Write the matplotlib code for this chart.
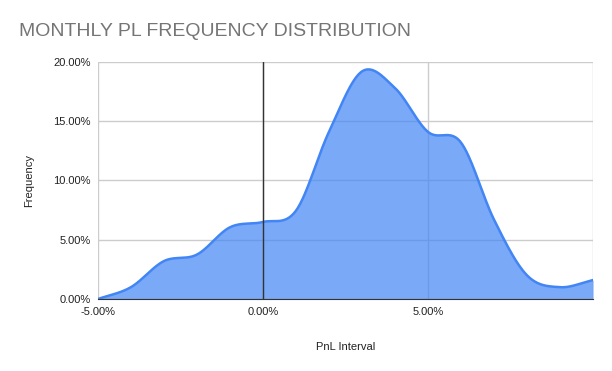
import numpy as np
import matplotlib.pyplot as plt
from matplotlib.ticker import FuncFormatter

plt.rcParams['font.family'] = ['Liberation Sans', 'DejaVu Sans']

# PnL interval (%) and frequency (%)
pnl = [-5, -4, -3, -2, -1, 0, 1, 2, 3, 4, 5, 6, 7, 8, 9, 10]
freq = [0.0, 1.0, 3.2, 3.75, 6.05, 6.5, 7.45, 14.1, 19.2, 17.8, 14.1, 13.2, 6.7, 2.0, 1.0, 1.6]


def smooth(x, y, n=30):
    # catmull-rom style curve through the points
    x = np.asarray(x, float)
    y = np.asarray(y, float)
    px = np.concatenate([[2*x[0]-x[1]], x, [2*x[-1]-x[-2]]])
    py = np.concatenate([[2*y[0]-y[1]], y, [2*y[-1]-y[-2]]])
    xs, ys = [], []
    for i in range(1, len(px)-2):
        t = np.linspace(0, 1, n, endpoint=False)
        for p, out in ((px, xs), (py, ys)):
            p0, p1, p2, p3 = p[i-1], p[i], p[i+1], p[i+2]
            out.extend(0.5*((2*p1) + (-p0+p2)*t + (2*p0-5*p1+4*p2-p3)*t**2
                            + (-p0+3*p1-3*p2+p3)*t**3))
    xs.append(x[-1])
    ys.append(y[-1])
    return np.array(xs), np.clip(np.array(ys), 0, None)


fig = plt.figure(figsize=(6.12, 3.71), dpi=100)
ax = fig.add_axes([0.160, 0.194, 0.809, 0.639])

sx, sy = smooth(pnl, freq)
ax.fill_between(sx, sy, 0, color="#4285F4", alpha=0.7, lw=0, zorder=3)
ax.plot(sx, sy, color="#4285F4", lw=1.8, zorder=4)

ax.set_xlim(-5, 10)
ax.set_ylim(0, 20)
ax.set_xticks([-5, 0, 5, 10])
ax.set_yticks([0, 5, 10, 15, 20])
ax.xaxis.set_major_formatter(FuncFormatter(lambda v, p: "" if v == 10 else "%.2f%%" % v))
ax.yaxis.set_major_formatter(FuncFormatter(lambda v, p: "%.2f%%" % v))
ax.grid(True, color="#cccccc", lw=1, zorder=1)
ax.axvline(0, color="#333333", lw=1, zorder=5)
ax.tick_params(axis="x", length=0, labelsize=8, labelcolor="#222222", pad=6)
ax.tick_params(axis="y", length=0, labelsize=8, labelcolor="#222222", pad=5)
for s in ["top", "right", "left"]:
    ax.spines[s].set_visible(False)
ax.spines["bottom"].set_color("#333333")
ax.spines["bottom"].set_zorder(6)

ax.set_xlabel("PnL Interval", fontsize=8, color="#222222", labelpad=18)
ax.set_ylabel("Frequency", fontsize=8, color="#222222", labelpad=14)
fig.text(19/612, 1-32/371, "MONTHLY PL FREQUENCY DISTRIBUTION", fontsize=14,
         color="#757575", va="center", ha="left")

fig.savefig("out.png", dpi=100)
